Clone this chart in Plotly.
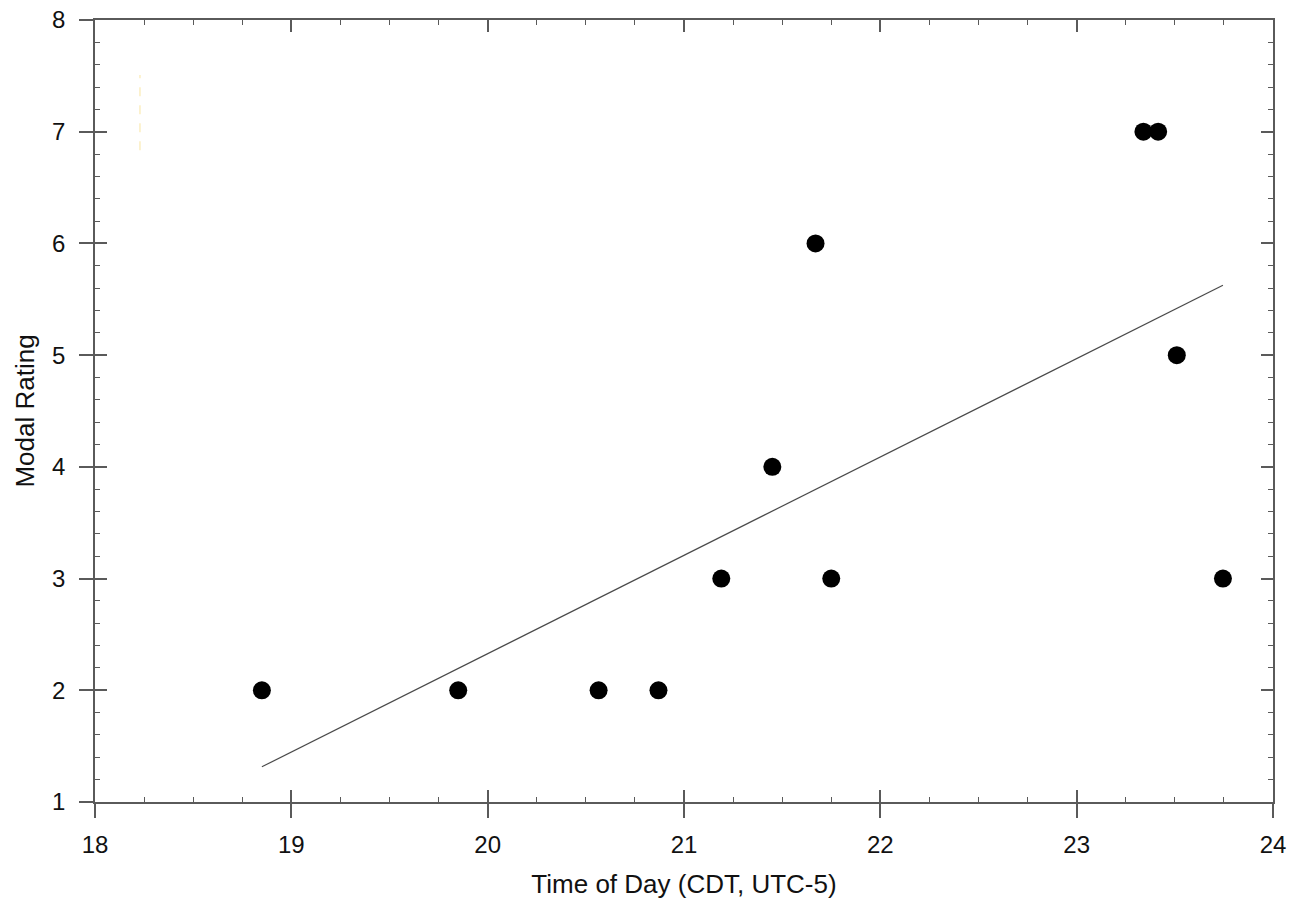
import plotly.graph_objects as go

time_of_day = [18.85, 19.85, 20.565, 20.87, 21.19, 21.45, 21.67, 21.75, 23.34, 23.415, 23.51, 23.745]
modal_rating = [2, 2, 2, 2, 3, 4, 6, 3, 7, 7, 5, 3]
fit_x = [18.85, 23.745]
fit_y = [1.315, 5.625]

x_ticks = [18, 19, 20, 21, 22, 23, 24]
y_ticks = [1, 2, 3, 4, 5, 6, 7, 8]

axcol = "#5a5a5a"
font = dict(family="Liberation Sans, Arial, sans-serif", size=24, color="#111")
title_font = dict(family="Liberation Sans, Arial, sans-serif", size=26, color="#111")

fig = go.Figure()
fig.add_trace(go.Scatter(x=fit_x, y=fit_y, mode="lines",
                         line=dict(color="#4a4a4a", width=1.2), showlegend=False, hoverinfo="skip"))
fig.add_trace(go.Scatter(x=time_of_day, y=modal_rating, mode="markers",
                         marker=dict(color="black", size=18), showlegend=False))
# dummy trace for overlay axes
fig.add_trace(go.Scatter(x=[18], y=[1], xaxis="x2", yaxis="y2", mode="markers",
                         marker=dict(opacity=0), showlegend=False, hoverinfo="skip"))

fig.add_shape(type="line", x0=18.229, x1=18.229, y0=6.835, y1=7.507,
              line=dict(color="#fbeec0", width=1.5, dash="dash"), layer="below")

fig.update_layout(
    width=1296, height=905,
    margin=dict(l=95, r=23, t=20, b=103),
    plot_bgcolor="white", paper_bgcolor="white",
    font=font,
    xaxis=dict(range=[18, 24], tickvals=x_ticks, ticks="outside", ticklen=14, tickwidth=1.5,
               tickcolor=axcol, showline=True, linecolor=axcol, linewidth=1.5, automargin=False,
               showgrid=False, zeroline=False, tickfont=font, ticklabelstandoff=6,
               title=dict(text="Time of Day (CDT, UTC-5)", font=title_font, standoff=18)),
    yaxis=dict(range=[1, 8], tickvals=y_ticks, ticks="outside", ticklen=14, tickwidth=1.5,
               tickcolor=axcol, showline=True, linecolor=axcol, linewidth=1.5, automargin=False,
               showgrid=False, zeroline=False, tickfont=font, ticklabelstandoff=9,
               title=dict(text="Modal Rating", font=title_font, standoff=10)),
    xaxis2=dict(range=[18, 24], overlaying="x", anchor="y2", side="bottom", automargin=False,
                tickvals=x_ticks, ticks="inside", ticklen=12, tickwidth=1.5, tickcolor=axcol,
                showticklabels=False, showline=True, linecolor=axcol, linewidth=1.5,
                mirror="ticks", showgrid=False, zeroline=False,
                minor=dict(dtick=0.25, ticks="inside", ticklen=5, tickwidth=1.2, tickcolor=axcol)),
    yaxis2=dict(range=[1, 8], overlaying="y", anchor="x2", side="left", automargin=False,
                tickvals=y_ticks, ticks="inside", ticklen=12, tickwidth=1.5, tickcolor=axcol,
                showticklabels=False, showline=True, linecolor=axcol, linewidth=1.5,
                mirror="ticks", showgrid=False, zeroline=False,
                minor=dict(dtick=0.2, ticks="inside", ticklen=5, tickwidth=1.2, tickcolor=axcol)),
)

fig.write_html("out.html")
